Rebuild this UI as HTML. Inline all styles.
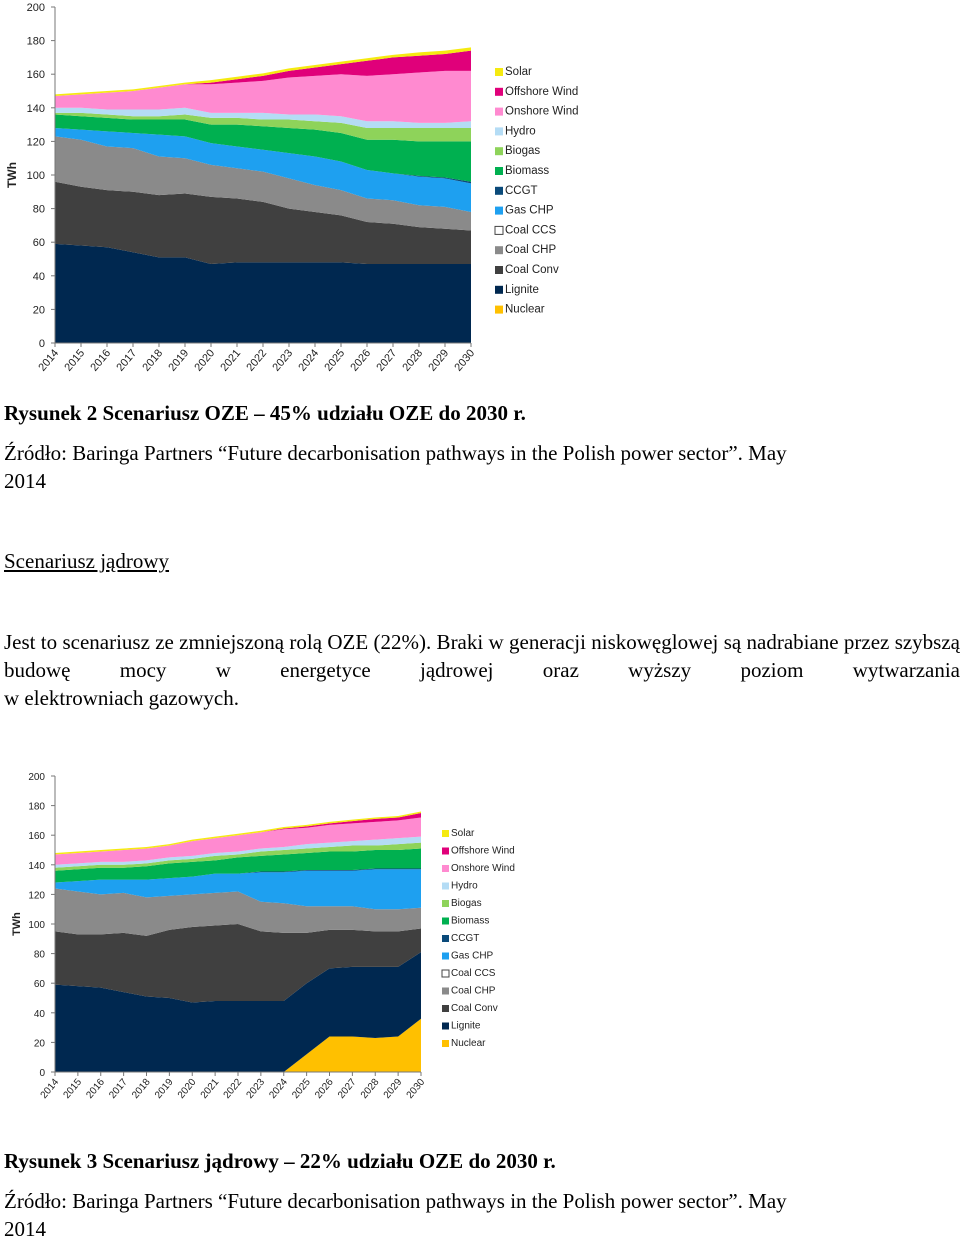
<!DOCTYPE html>
<html><head><meta charset="utf-8">
<style>
body{margin:0;background:#fff;width:960px;height:1238px;position:relative;overflow:hidden;font-family:"Liberation Serif",serif;}
.t{position:absolute;left:4px;font-size:21px;line-height:28px;color:#000;white-space:nowrap;}
.b{font-weight:bold;}
.j{text-align:justify;text-align-last:justify;width:956px;white-space:normal;}
svg{position:absolute;left:0;}
svg text{font-family:"Liberation Sans",sans-serif;fill:#222;}
</style></head><body>
<svg id="chart1" width="620" height="385" style="top:0"></svg>
<div class="t b" style="top:399px">Rysunek 2 Scenariusz OZE – 45% udziału OZE do 2030 r.</div>
<div class="t" style="top:439px">Źródło: Baringa Partners “Future decarbonisation pathways in the Polish power sector”. May<br>2014</div>
<div class="t" style="top:547px;text-decoration:underline">Scenariusz jądrowy</div>
<div class="t j" style="top:628px">Jest to scenariusz ze zmniejszoną rolą OZE (22%). Braki w generacji niskowęglowej są nadrabiane przez szybszą budowę mocy w energetyce jądrowej oraz wyższy poziom wytwarzania</div>
<div class="t" style="top:684px">w elektrowniach gazowych.</div>
<svg id="chart2" width="560" height="345" style="top:765px"></svg>
<div class="t b" style="top:1147px">Rysunek 3 Scenariusz jądrowy – 22% udziału OZE do 2030 r.</div>
<div class="t" style="top:1187px">Źródło: Baringa Partners “Future decarbonisation pathways in the Polish power sector”. May<br>2014</div>
<script>
const years=["2014","2015","2016","2017","2018","2019","2020","2021","2022","2023","2024","2025","2026","2027","2028","2029","2030"];
const yTicks=[0,20,40,60,80,100,120,140,160,180,200];
const seriesNames=["Nuclear","Lignite","Coal Conv","Coal CHP","Coal CCS","Gas CHP","CCGT","Biomass","Biogas","Hydro","Onshore Wind","Offshore Wind","Solar"];
const seriesColors=["#ffc000","#002850","#404040","#8a8a8a","#bbbbbb","#1ea0f0","#0a4a7a","#00b050","#8ed35a","#b4dcf5","#ff8ad0","#e0007a","#f5ea10"];
// Chart 1 (OZE scenario) values, TWh
const c1Nuclear=[0,0,0,0,0,0,0,0,0,0,0,0,0,0,0,0,0];
const c1Lignite=[59,58,57,54,51,51,47,48,48,48,48,48,47,47,47,47,47];
const c1CoalConv=[37,35,34,36,37,38,40,38,36,32,30,28,25,24,22,21,20];
const c1CoalCHP=[27,28,26,26,23,21,19,18,18,18,16,15,14,14,13,13,11];
const c1CoalCCS=[0,0,0,0,0,0,0,0,0,0,0,0,0,0,0,0,0];
const c1GasCHP=[5,6,9,9,13,13,13,13,13,15,17,17,17,16,17,17,17];
const c1CCGT=[0,0,0,0,0,0,0,0,0,0,0,0,0,0,0.5,0.5,1];
const c1Biomass=[8,8,8,8,9,10,11,13,14,15,16,17,18,20,20.5,21.5,24];
const c1Biogas=[1,2,2,2,2,3,4,4,4,5,5,6,7,7,8,8,8];
const c1Hydro=[3,3,3,4,4,4,3,3,4,3,4,4,4,4,3,3,4];
const c1Onshore=[7,8,10,11,13,14,17,18,19,22,23,25,27,28,30,31,30];
const c1Offshore=[0,0,0,0,0,0,1,2,3,4,5,6,9,10,10,10,12];
const c1Solar=[1,1,1,1,1,1,1.5,1.5,1.5,1.5,1.5,1.5,1.5,1.5,2,2,2];
// Chart 2 (nuclear scenario) values, TWh
const c2Nuclear=[0,0,0,0,0,0,0,0,0,0,0,12,24,24,23,24,36];
const c2Lignite=[59,58,57,54,51,50,47,48,48,48,48,48,46,47,48,47,45];
const c2CoalConv=[36,35,36,40,41,46,51,51,52,47,46,34,26,25,24,24,16];
const c2CoalCHP=[29,29,27,27,26,23,22,22,22,20,20,18,16,16,15,15,14];
const c2CoalCCS=[0,0,0,0,0,0,0,0,0,0,0,0,0,0,0,0,0];
const c2GasCHP=[4,7,10,9,12,12,12,13,12,20,21,24,24,24,27,27,26];
const c2CCGT=[0,0,0,0,0,0,0,0,0,0.5,0.5,0.5,0.5,0.5,0.5,0.5,0.5];
const c2Biomass=[8,8,8,8,9,10,10,9,11,10.5,11.5,11.5,12.5,12.5,12.5,12.5,13.5];
const c2Biogas=[2,2,2,2,2,2,2,3,2,3,3,3,3,4,3,4,4];
const c2Hydro=[2,2,2,2,2,2,2,2,2,2,2,3,3,3,4,4,4];
const c2Onshore=[7,7,7,8,8,8,10,10,11,11,12,11,12,12,12,12,13];
const c2Offshore=[0,0,0,0,0,0,0,0,0,0,0.5,1,1,1.5,2,2,3];
const c2Solar=[1,1,1,1,1,1,1,1,1,1,1,1,1,1,1,1,1];

const NS="http://www.w3.org/2000/svg";
function mk(tag,attrs,parent){const e=document.createElementNS(NS,tag);for(const k in attrs)e.setAttribute(k,attrs[k]);parent.appendChild(e);return e;}
function draw(svg,series,g){
  const xS=i=>g.x0+(g.x1-g.x0)*i/(years.length-1);
  const yS=v=>g.y0-(g.y0-g.y1)*v/200;
  let base=years.map(()=>0);
  series.forEach((vals,si)=>{
    const top=base.map((b,i)=>b+vals[i]);
    let d="M"+years.map((_,i)=>xS(i)+","+yS(top[i])).join(" L");
    for(let i=years.length-1;i>=0;i--)d+=" L"+xS(i)+","+yS(base[i]);
    const p=mk("path",{d:d+"Z",fill:seriesColors[si]},svg);
    
    
    base=top;
  });
  const ax=mk("path",{d:`M${g.x0},${g.y1} V${g.y0} H${g.x1}`,stroke:"#777",fill:"none","stroke-width":1},svg);
  
  
  yTicks.forEach(t=>{
    mk("line",{x1:g.x0-4,x2:g.x0,y1:yS(t),y2:yS(t),stroke:"#777"},svg);
    const tx=mk("text",{x:g.x0-10,y:yS(t)+4,"text-anchor":"end","font-size":g.fs},svg);
    tx.textContent=t;
    
    
  });
  years.forEach((yr,i)=>{
    mk("line",{x1:xS(i),x2:xS(i),y1:g.y0,y2:g.y0+4,stroke:"#777"},svg);
    const tx=mk("text",{x:xS(i)+4,y:g.y0+10,"text-anchor":"end","font-size":g.fs,transform:`rotate(-50 ${xS(i)+4} ${g.y0+10})`},svg);
    tx.textContent=yr;
    
    
  });
  const yt=mk("text",{x:g.tx,y:g.ty,"text-anchor":"middle","font-size":g.fs+1,"font-weight":"bold",transform:`rotate(-90 ${g.tx} ${g.ty})`},svg);
  yt.textContent="TWh";
  
  
  for(let k=0;k<seriesNames.length;k++){
    const si=seriesNames.length-1-k;
    const y=g.ly+k*g.ls;
    const r=mk("rect",{x:g.lx,y:y-g.sw+1,width:g.sw,height:g.sw,fill:si===4?"#fff":seriesColors[si],stroke:si===4?"#444":"none"},svg);
    
    
    const tx=mk("text",{x:g.lx+g.sw+2,y:y,"font-size":g.lfs,fill:"#333"},svg);
    tx.textContent=seriesNames[si];
    
    
  }
}
draw(document.getElementById("chart1"),[c1Nuclear,c1Lignite,c1CoalConv,c1CoalCHP,c1CoalCCS,c1GasCHP,c1CCGT,c1Biomass,c1Biogas,c1Hydro,c1Onshore,c1Offshore,c1Solar],
 {x0:55,x1:471,y0:343,y1:7,fs:11,tx:16,ty:175,lx:495,ly:75,ls:19.8,sw:8,lfs:11.5});
draw(document.getElementById("chart2"),[c2Nuclear,c2Lignite,c2CoalConv,c2CoalCHP,c2CoalCCS,c2GasCHP,c2CCGT,c2Biomass,c2Biogas,c2Hydro,c2Onshore,c2Offshore,c2Solar],
 {x0:55,x1:421,y0:307,y1:11,fs:10,tx:20,ty:159,lx:442,ly:71,ls:17.5,sw:7,lfs:10});
</script>
</body></html>
